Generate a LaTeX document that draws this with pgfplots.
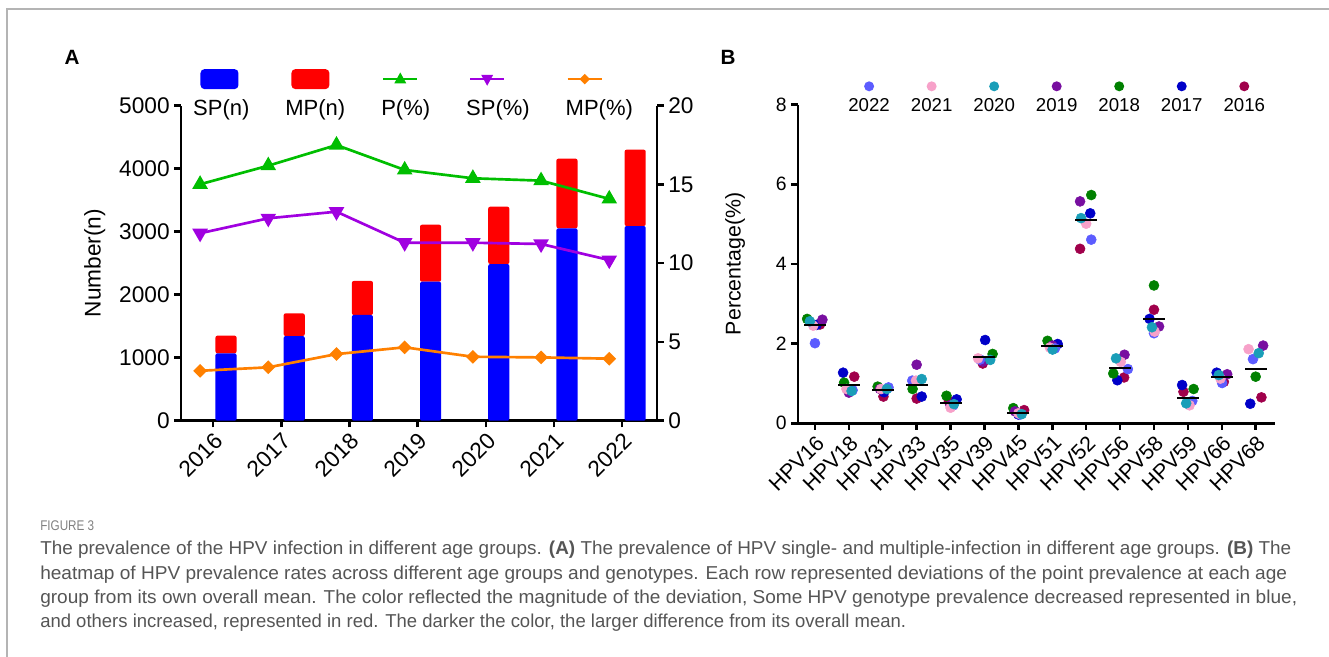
\documentclass[border=0pt]{standalone}
\usepackage{pgfplots}
\pgfplotsset{compat=1.18}
\usepackage{fontspec}
\setmainfont{Liberation Sans}
\usepackage{graphicx}

\definecolor{cBlue}{HTML}{0000FF}
\definecolor{cRed}{HTML}{FF0000}
\definecolor{cGreen}{HTML}{00BE00}
\definecolor{cPurple}{HTML}{A000E0}
\definecolor{cOrange}{HTML}{FF8000}
\definecolor{y2022}{HTML}{5C5CFF}
\definecolor{y2021}{HTML}{F7A1C9}
\definecolor{y2020}{HTML}{1A9EB8}
\definecolor{y2019}{HTML}{780FA0}
\definecolor{y2018}{HTML}{008000}
\definecolor{y2017}{HTML}{0000C8}
\definecolor{y2016}{HTML}{A0004B}
\definecolor{capgray}{HTML}{555555}
\definecolor{framegray}{HTML}{B4B4B4}

% legend samples, built before the picture (no nesting)
\newsavebox\imgSPn \newsavebox\imgMPn \newsavebox\imgP \newsavebox\imgSP \newsavebox\imgMP
\newsavebox\dA \newsavebox\dB \newsavebox\dC \newsavebox\dD \newsavebox\dE \newsavebox\dF \newsavebox\dG
\newcommand\legdot[1]{\tikz[baseline=0pt]{\path (-4pt,-6pt) rectangle (4pt,4pt); \fill[#1] (0,0) circle (3.75pt);}}

% squeeze a caption line to a given width (pt)
\newlength\fitlen
\newcommand\fitw[2]{\settowidth\fitlen{#2}\pgfmathsetmacro\fitsx{#1/\fitlen}\scalebox{\fitsx}[1]{#2}}

\begin{document}%
\sbox\imgSPn{\tikz[baseline=0pt]{\path (0,-12pt) rectangle (34pt,8pt); \fill[cBlue, rounded corners=3pt] (5.5pt,-7.5pt) rectangle (34pt,7.5pt);}}%
\sbox\imgMPn{\tikz[baseline=0pt]{\path (0,-12pt) rectangle (33pt,8pt); \fill[cRed, rounded corners=3pt] (4.5pt,-7.5pt) rectangle (33pt,7.5pt);}}%
\sbox\imgP{\tikz[baseline=0pt]{\path (0,-12pt) rectangle (28.5pt,8pt); \draw[cGreen, line width=2pt] (1.5pt,0) -- (27pt,0); \fill[cGreen] (14.25pt,5pt) -- (9.75pt,-3.2pt) -- (18.75pt,-3.2pt) -- cycle;}}%
\sbox\imgSP{\tikz[baseline=0pt]{\path (0,-12pt) rectangle (28.5pt,8pt); \draw[cPurple, line width=2pt] (3pt,0) -- (28.5pt,0); \fill[cPurple] (15.75pt,-5pt) -- (11.25pt,3.2pt) -- (20.25pt,3.2pt) -- cycle;}}%
\sbox\imgMP{\tikz[baseline=0pt]{\path (0,-12pt) rectangle (28.5pt,8pt); \draw[cOrange, line width=2pt] (1.5pt,0) -- (27pt,0); \fill[cOrange] (14.25pt,4pt) -- (18.25pt,0) -- (14.25pt,-4pt) -- (10.25pt,0) -- cycle;}}%
\sbox\dA{\legdot{y2022}}\sbox\dB{\legdot{y2021}}\sbox\dC{\legdot{y2020}}\sbox\dD{\legdot{y2019}}%
\sbox\dE{\legdot{y2018}}\sbox\dF{\legdot{y2017}}\sbox\dG{\legdot{y2016}}%
\begin{tikzpicture}
\useasboundingbox (0,0) rectangle (996.75pt,492.75pt);
\draw[framegray, line width=1.1pt] (5.25pt,0) -- (5.25pt,486pt) -- (996.75pt,486pt);

\pgfplotsset{
  panel/.style={
    scale only axis, anchor=south west,
    axis line style={line width=1.9pt, black},
    tick style={line width=1.9pt, black},
    tick align=outside, major tick length=5pt,
    /pgf/number format/assume math mode=true,
    /pgf/number format/1000 sep={},
    clip=false,
  },
  pt/.style={only marks, mark=*, mark size=3.75pt, mark options={draw=#1, fill=#1}},
}

% ---------- A: counts (left axis) ----------
\begin{axis}[panel,
  at={(135.75pt,177.2pt)}, width=357pt, height=236.3pt,
  xmin=-0.47, xmax=6.51, ymin=0, ymax=5000,
  axis y line*=left, axis x line*=bottom,
  xtick={0,...,6}, xticklabels={2016,2017,2018,2019,2020,2021,2022},
  ytick={0,1000,...,5000},
  ticklabel style={font=\fontsize{17}{20}\selectfont},
  xticklabel style={rotate=45, anchor=north east, inner sep=2pt},
  ylabel={Number(n)},
  ylabel style={font=\fontsize{17}{20}\selectfont, at={(axis description cs:-0.181,0.5)}, anchor=center},
  ybar stacked, bar width=0.31,
]
\addplot[fill=cBlue, draw=none, rounded corners=1.5pt] coordinates {
  (0.19,1070) (1.19,1344) (2.19,1678) (3.19,2206) (4.19,2487) (5.19,3054) (6.19,3090)};
\addplot[fill=cRed, draw=none, rounded corners=1.5pt] coordinates {
  (0.19,280) (1.19,360) (2.19,540) (3.19,905) (4.19,910) (5.19,1105) (6.19,1212)};
\end{axis}

% ---------- A: percentages (right axis) ----------
\begin{axis}[panel,
  at={(135.75pt,177.2pt)}, width=357pt, height=236.3pt,
  xmin=-0.47, xmax=6.51, ymin=0, ymax=20,
  axis y line*=right, axis x line=none,
  ytick={0,5,...,20},
  ticklabel style={font=\fontsize{17}{20}\selectfont},
  legend image code/.code={},
  legend columns=5, legend cell align=left,
  legend style={at={(axis description cs:0.025,1.119)}, anchor=north west,
    draw=none, fill=none, inner sep=0pt, column sep=0pt,
    /tikz/every even column/.append style={column sep=27pt},
    nodes={inner sep=0pt}, font=\fontsize{16.5}{19}\selectfont},
]
\addlegendimage{empty legend}
\addlegendimage{empty legend}
\addlegendimage{empty legend}
\addlegendimage{empty legend}
\addlegendimage{empty legend}
\addplot[cGreen, line width=2pt, mark=triangle*, mark size=4.8pt] coordinates {
  (-0.19,15.01) (0.81,16.19) (1.81,17.50) (2.81,15.92) (3.81,15.39) (4.81,15.24) (5.81,14.08)};
\addplot[cPurple, line width=2pt, mark=triangle*, mark size=4.8pt, mark options={rotate=180}] coordinates {
  (-0.19,11.90) (0.81,12.85) (1.81,13.27) (2.81,11.30) (3.81,11.30) (4.81,11.22) (5.81,10.20)};
\addplot[cOrange, line width=2pt, mark=square*, mark size=2.65pt, mark options={rotate=45}] coordinates {
  (-0.19,3.17) (0.81,3.39) (1.81,4.23) (2.81,4.66) (3.81,4.06) (4.81,4.02) (5.81,3.94)};
\legend{{\shortstack[l]{\usebox\imgSPn\\SP(n)}},
        {\shortstack[l]{\usebox\imgMPn\\MP(n)}},
        {\shortstack[l]{\usebox\imgP\\P(\%)}},
        {\shortstack[l]{\usebox\imgSP\\SP(\%)}},
        {\shortstack[l]{\usebox\imgMP\\MP(\%)}}}
\end{axis}

% ---------- B: genotype prevalence by year ----------
\begin{axis}[panel,
  at={(598.5pt,175.3pt)}, width=357.75pt, height=239pt,
  xmin=-0.5, xmax=13.57, ymin=0, ymax=8,
  axis y line*=left, axis x line*=bottom,
  xtick={0,...,13},
  xticklabels={HPV16,HPV18,HPV31,HPV33,HPV35,HPV39,HPV45,HPV51,HPV52,HPV56,HPV58,HPV59,HPV66,HPV68},
  ytick={0,2,...,8},
  yticklabel style={font=\fontsize{14.5}{17}\selectfont},
  xticklabel style={font=\fontsize{16}{19}\selectfont, rotate=45, anchor=north east, inner sep=2pt},
  ylabel={Percentage(\%)},
  ylabel style={font=\fontsize{16}{19}\selectfont, at={(axis description cs:-0.132,0.5)}, anchor=center},
  legend image code/.code={},
  legend columns=7,
  legend style={at={(axis description cs:0.105,1.075)}, anchor=north west,
    draw=none, fill=none, inner sep=0pt, column sep=0pt,
    /tikz/every even column/.append style={column sep=15.75pt},
    nodes={inner sep=0pt}, font=\fontsize{14}{17}\selectfont},
]
\addlegendimage{empty legend}
\addlegendimage{empty legend}
\addlegendimage{empty legend}
\addlegendimage{empty legend}
\addlegendimage{empty legend}
\addlegendimage{empty legend}
\addlegendimage{empty legend}
% 2016
\addplot[pt=y2016] coordinates {
  (0.15,2.48) (1.16,1.17) (2.02,0.67) (3.0,0.62) (3.95,0.56) (4.95,1.50) (6.17,0.33)
  (6.96,1.93) (7.82,4.38) (9.12,1.15) (10.0,2.85) (10.87,0.79) (12.06,1.04) (13.17,0.65)};
% 2017
\addplot[pt=y2017] coordinates {
  (0.05,2.47) (0.83,1.27) (2.04,0.78) (3.15,0.67) (4.18,0.60) (5.02,2.09) (6.0,0.22)
  (7.16,1.99) (8.12,5.27) (8.92,1.08) (9.87,2.62) (10.83,0.96) (11.85,1.27) (12.84,0.49)};
% 2018
\addplot[pt=y2018] coordinates {
  (-0.23,2.62) (0.86,1.02) (1.85,0.92) (2.88,0.86) (3.88,0.69) (5.24,1.74) (5.85,0.38)
  (6.86,2.07) (8.15,5.73) (8.80,1.25) (10.0,3.46) (11.17,0.86) (11.95,1.18) (13.0,1.17)};
% 2019
\addplot[pt=y2019] coordinates {
  (0.22,2.60) (1.0,0.77) (1.92,0.86) (3.0,1.47) (4.0,0.45) (4.95,1.55) (5.90,0.30)
  (7.0,1.95) (7.82,5.57) (9.13,1.72) (10.15,2.43) (11.05,0.52) (12.16,1.23) (13.22,1.95)};
% 2022
\addplot[pt=y2022] coordinates {
  (0.0,2.01) (1.11,0.83) (2.17,0.90) (2.87,1.07) (4.08,0.45) (4.87,1.60) (6.05,0.22)
  (7.08,1.88) (8.15,4.61) (9.23,1.36) (10.0,2.26) (11.13,0.56) (12.01,1.01) (12.92,1.61)};
% 2021
\addplot[pt=y2021] coordinates {
  (-0.05,2.45) (0.93,0.86) (1.95,0.86) (2.98,1.07) (4.0,0.39) (4.81,1.63) (6.0,0.25)
  (6.93,1.90) (8.0,5.01) (9.02,1.54) (10.02,2.30) (11.05,0.45) (11.96,1.12) (12.79,1.86)};
% 2020
\addplot[pt=y2020] coordinates {
  (-0.15,2.56) (1.08,0.81) (2.12,0.86) (3.15,1.11) (4.10,0.48) (5.17,1.59) (6.10,0.23)
  (7.01,1.85) (7.85,5.15) (8.88,1.63) (9.94,2.41) (10.95,0.50) (11.91,1.21) (13.09,1.76)};
% means
\addplot[only marks, mark=-, mark size=8.25pt, mark options={line width=1.5pt, black}] coordinates {
  (0,2.47) (1,0.96) (2,0.83) (3,0.96) (4,0.50) (5,1.67) (6,0.27)
  (7,1.93) (8,5.10) (9,1.39) (10,2.63) (11,0.645) (12,1.17) (13,1.35)};
\legend{{\shortstack{\usebox\dA\\2022}}, {\shortstack{\usebox\dB\\2021}},
        {\shortstack{\usebox\dC\\2020}}, {\shortstack{\usebox\dD\\2019}},
        {\shortstack{\usebox\dE\\2018}}, {\shortstack{\usebox\dF\\2017}},
        {\shortstack{\usebox\dG\\2016}}}
\end{axis}

% panel letters
\node[anchor=base, font=\fontsize{15.5}{18}\selectfont\bfseries] at (54pt,444.4pt) {A};
\node[anchor=base, font=\fontsize{15.5}{18}\selectfont\bfseries] at (546pt,444.4pt) {B};

% caption
\node[anchor=base west, inner sep=0pt, text=gray] at (30pt,94.5pt)
  {\fitw{40.5}{\fontsize{10.5}{12}\selectfont FIGURE 3}};
\begin{scope}[every node/.style={anchor=base west, inner sep=0pt, text=capgray, font=\fontsize{14}{17}\selectfont}]
\node at (30pt,76.5pt) {\fitw{938.25}{The prevalence of the HPV infection in different age groups. \textbf{(A)} The prevalence of HPV single- and multiple-infection in different age groups. \textbf{(B)} The}};
\node at (30pt,58.25pt) {\fitw{935.25}{heatmap of HPV prevalence rates across different age groups and genotypes. Each row represented deviations of the point prevalence at each age}};
\node at (30pt,40pt) {\fitw{942.75}{group from its own overall mean. The color reflected the magnitude of the deviation, Some HPV genotype prevalence decreased represented in blue,}};
\node at (30pt,21.75pt) {\fitw{649.5}{and others increased, represented in red. The darker the color, the larger difference from its overall mean.}};
\end{scope}
\end{tikzpicture}
\end{document}
